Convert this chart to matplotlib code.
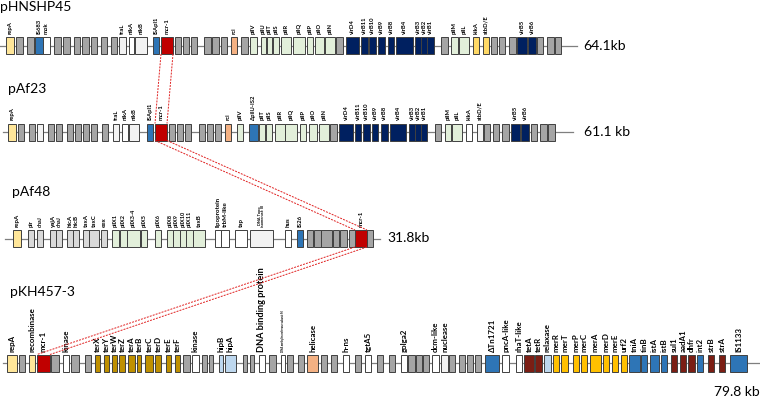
import matplotlib
matplotlib.use("Agg")
import matplotlib.pyplot as plt
from matplotlib.patches import Rectangle

plt.rcParams['font.family'] = ['Lato', 'DejaVu Sans']

# couleurs par type de gene
couleurs = {
    'rep': '#FFE699', 'hyp': '#A5A5A5', 'is': '#2E75B6', 'white': '#FFFFFF',
    'pale': '#F2F2F2', 'mcr': '#C00000', 'rci': '#F4B183', 'pil': '#E2EFDA',
    'vir': '#002060', 'stb': '#FFD966', 'lgrey': '#D9D9D9', 'ter': '#BF9000',
    'mer': '#FFC000', 'res': '#7B1E14', 'lblue': '#BDD7EE',
}

# (debut, fin, type, nom) -- positions le long de chaque plasmide
pHNSHP45 = [
    (6, 14, 'rep', 'repA'), (16, 23, 'hyp', ''), (27, 34, 'hyp', ''),
    (35, 43, 'is', 'IS683'), (43, 50, 'white', 'mok'),
    (54, 61, 'hyp', ''), (63, 70, 'hyp', ''), (74, 80, 'hyp', ''),
    (82, 89, 'hyp', ''), (91, 97, 'hyp', ''), (101, 107, 'hyp', ''),
    (111, 117, 'hyp', ''), (119, 126, 'pale', 'traL'), (129, 134, 'white', 'nikA'),
    (135, 147, 'pale', 'nikB'), (153, 159, 'is', 'ISApl1'), (161, 173, 'mcr', 'mcr-1'),
    (175, 181, 'hyp', ''), (183, 189, 'hyp', ''), (191, 197, 'hyp', ''),
    (204, 211, 'hyp', ''), (212, 219, 'hyp', ''), (221, 227, 'hyp', ''),
    (231, 237, 'rci', 'rci'), (241, 248, 'hyp', ''),
    (250, 257, 'pil', 'pilV'), (261, 266, 'pil', 'pilU'), (267, 272, 'pil', 'pilT'),
    (273, 279, 'pil', 'pilS'), (281, 291, 'pil', 'pilR'), (293, 305, 'pil', 'pilQ'),
    (307, 313, 'pil', 'pilP'), (315, 324, 'pil', 'pilO'), (325, 335, 'pil', 'pilN'),
    (336, 343, 'hyp', ''),
    (346, 359, 'vir', 'virD4'), (361, 368, 'vir', 'virB11'), (369, 376, 'vir', 'virB10'),
    (378, 385, 'vir', 'virB9'), (388, 394, 'vir', 'virB8'), (396, 413, 'vir', 'virB4'),
    (415, 421, 'vir', 'virB3'), (421, 427, 'vir', 'virB2'), (427, 434, 'vir', 'virB1'),
    (441, 448, 'hyp', ''), (451, 458, 'pil', 'pilM'), (459, 469, 'pil', 'pilL'),
    (473, 479, 'stb', 'kikA'), (483, 489, 'stb', 'stbD/E'),
    (491, 497, 'hyp', ''), (499, 505, 'hyp', ''), (509, 516, 'hyp', ''),
    (517, 527, 'vir', 'virB5'), (528, 536, 'vir', 'virB6'),
    (537, 543, 'hyp', ''), (547, 554, 'hyp', ''), (555, 561, 'hyp', ''),
]

pAf23 = [
    (8, 16, 'rep', 'repA'), (18, 24, 'hyp', ''), (29, 35, 'hyp', ''),
    (37, 43, 'pale', ''), (48, 54, 'hyp', ''), (56, 62, 'hyp', ''),
    (67, 73, 'hyp', ''), (75, 81, 'hyp', ''), (83, 89, 'hyp', ''),
    (91, 97, 'hyp', ''), (102, 108, 'hyp', ''),
    (113, 119, 'pale', 'traL'), (122, 128, 'white', 'nikA'), (129, 139, 'pale', 'nikB'),
    (147, 153, 'is', 'ISApl1'), (155, 167, 'mcr', 'mcr-1'),
    (169, 175, 'hyp', ''), (177, 183, 'hyp', ''), (185, 191, 'hyp', ''),
    (199, 205, 'hyp', ''), (207, 213, 'hyp', ''), (215, 221, 'hyp', ''),
    (225, 231, 'rci', 'rci'), (237, 243, 'pil', 'pilV'), (249, 258, 'is', 'ΔpilU-IS2'),
    (259, 265, 'pil', 'pilT'), (266, 272, 'pil', 'pilS'), (275, 285, 'pil', 'pilR'),
    (285, 297, 'pil', 'pilQ'), (300, 306, 'pil', 'pilP'), (309, 317, 'pil', 'pilO'),
    (319, 329, 'pil', 'pilN'), (330, 337, 'hyp', ''),
    (339, 353, 'vir', 'virD4'), (355, 361, 'vir', 'virB11'), (363, 370, 'vir', 'virB10'),
    (372, 378, 'vir', 'virB9'), (381, 388, 'vir', 'virB8'), (390, 406, 'vir', 'virB4'),
    (409, 415, 'vir', 'virB3'), (415, 421, 'vir', 'virB2'), (421, 427, 'vir', 'virB1'),
    (435, 441, 'hyp', ''), (445, 451, 'pil', 'pilM'), (452, 462, 'pil', 'pilL'),
    (466, 472, 'white', 'kikA'), (477, 483, 'pale', 'stbD/E'),
    (484, 490, 'hyp', ''), (493, 499, 'hyp', ''), (502, 509, 'hyp', ''),
    (511, 520, 'vir', 'virB5'), (521, 529, 'vir', 'virB6'),
    (531, 537, 'hyp', ''), (540, 547, 'hyp', ''), (548, 555, 'hyp', ''),
]

pAf48 = [
    (13, 21, 'rep', 'repA'), (28, 34, 'lgrey', 'pir'), (37, 43, 'lgrey', 'dnaJ'),
    (50, 56, 'lgrey', 'yajA'), (56, 62, 'lgrey', 'dnaJ'), (67, 73, 'lgrey', 'hicA'),
    (73, 79, 'lgrey', 'hicB'), (83, 89, 'lgrey', 'taxA'), (89, 99, 'lgrey', 'taxC'),
    (101, 107, 'lgrey', 'eex'), (112, 119, 'pil', 'pilX1'), (120, 127, 'pil', 'pilX2'),
    (127, 140, 'pil', 'pilX3-4'), (141, 147, 'pil', 'pilX5'), (155, 161, 'pil', 'pilX6'),
    (167, 173, 'pil', 'pilX8'), (173, 180, 'pil', 'pilX9'), (180, 186, 'pil', 'pilX10'),
    (186, 193, 'pil', 'pilX11'), (193, 205, 'pil', 'taxB'),
    (215, 221, 'white', 'lipoprotein'), (221, 229, 'white', 'trbM-like'),
    (235, 247, 'white', 'tap'), (250, 273, 'pale', 'DNA Topo\nisomerase III'),
    (285, 291, 'white', 'hus'), (297, 303, 'is', 'IS26'),
    (307, 313, 'hyp', ''), (314, 321, 'hyp', ''), (321, 332, 'hyp', ''),
    (333, 339, 'hyp', ''), (340, 347, 'hyp', ''), (349, 355, 'hyp', ''),
    (355, 367, 'mcr', 'mcr-1'), (367, 373, 'hyp', ''),
]

pKH457_3 = [
    (7, 17, 'rep', 'repA'), (19, 25, 'hyp', ''), (29, 35, 'rep', 'recombinase'),
    (37, 50, 'mcr', 'mcr-1'), (51, 59, 'hyp', ''), (63, 69, 'white', 'kinase'),
    (71, 79, 'hyp', ''), (85, 91, 'hyp', ''),
    (95, 100, 'ter', 'terX'), (104, 109, 'ter', 'terY'), (112, 117, 'ter', 'terW'),
    (119, 125, 'ter', 'terZ'), (128, 135, 'ter', 'terA'), (137, 141, 'ter', 'terB'),
    (145, 153, 'ter', 'terC'), (155, 161, 'ter', 'terD'), (166, 171, 'ter', 'terE'),
    (175, 180, 'ter', 'terF'), (183, 190, 'hyp', ''), (192, 199, 'white', 'kinase'),
    (202, 207, 'hyp', ''), (209, 213, 'hyp', ''),
    (219, 223, 'lblue', 'hipB'), (225, 236, 'lblue', 'hipA'),
    (243, 247, 'hyp', ''), (250, 254, 'hyp', ''),
    (259, 265, 'white', 'DNA binding protein'), (269, 276, 'hyp', ''),
    (281, 285, 'white', 'DNA methyltransferase subunit M'),
    (287, 293, 'hyp', ''), (298, 304, 'hyp', ''), (307, 318, 'rci', 'helicase'),
    (321, 327, 'hyp', ''), (331, 337, 'hyp', ''), (343, 349, 'white', 'h-ns'),
    (355, 361, 'hyp', ''), (365, 371, 'white', 'tgtA5'), (377, 383, 'hyp', ''),
    (389, 395, 'hyp', ''), (401, 407, 'white', 'golga2'), (408, 415, 'hyp', ''),
    (416, 422, 'hyp', ''), (423, 429, 'hyp', ''), (432, 439, 'white', 'dcm-like'),
    (441, 448, 'pale', 'nuclease'), (449, 455, 'hyp', ''), (459, 465, 'hyp', ''),
    (467, 473, 'hyp', ''), (475, 481, 'hyp', ''), (485, 499, 'is', 'ΔTn1721'),
    (502, 509, 'white', 'pncA-like'), (516, 522, 'white', 'rhaT-like'),
    (524, 534, 'res', 'tetA'), (535, 542, 'res', 'tetR'), (544, 551, 'lblue', 'relaxase'),
    (553, 559, 'mer', 'merR'), (561, 568, 'mer', 'merT'), (573, 579, 'mer', 'merP'),
    (581, 587, 'mer', 'merC'), (590, 601, 'mer', 'merA'), (603, 609, 'mer', 'merD'),
    (612, 618, 'mer', 'merE'), (621, 627, 'mer', 'urf2'),
    (629, 640, 'is', 'tniA'), (641, 647, 'is', 'tinB'), (650, 659, 'is', 'istA'),
    (661, 667, 'is', 'istB'), (671, 677, 'res', 'sul1'), (680, 686, 'res', 'aadA1'),
    (688, 695, 'res', 'dhfr'), (697, 703, 'is', 'int2'), (708, 714, 'res', 'strB'),
    (719, 725, 'res', 'strA'), (730, 747, 'is', 'IS1133'),
]

noms = ['pHNSHP45', 'pAf23', 'pAf48', 'pKH457-3']
tailles = ['64.1kb', '61.1 kb', '31.8kb', '79.8 kb']
cartes = [pHNSHP45, pAf23, pAf48, pKH457_3]
squelettes = [(0, 577), (3, 573), (5, 380), (3, 760)]

# mise en page
lignesY = [45.5, 132, 238.5, 363]
titresXY = [(0, 13), (8, 95), (12, 198), (10, 298)]
taillesXY = [(583, 45.5), (584, 132), (387, 238.5), (714, 392)]
policesGenes = [4.2, 4.2, 4.4, 5.7]
policesSpeciales = {'DNA methyltransferase subunit M': 2.0,
                    'DNA Topo\nisomerase III': 2.8,
                    'DNA binding protein': 6.6,
                    'pilX1': 4.0, 'pilX2': 4.0, 'pilX3-4': 4.0, 'pilX5': 4.0,
                    'pilX6': 4.0, 'pilX8': 4.0, 'pilX9': 4.0, 'pilX10': 4.0,
                    'pilX11': 4.0, 'pir': 4.0, 'dnaJ': 3.8}
demiH = 8.5

fig = plt.figure(figsize=(7.6, 4.0), dpi=100)
ax = fig.add_axes([0, 0, 1, 1])
ax.set_xlim(0, 760)
ax.set_ylim(400, 0)
ax.axis('off')

for k, carte in enumerate(cartes):
    y = lignesY[k]
    x0, x1 = squelettes[k]
    ax.plot([x0, x1], [y, y], color='#7F7F7F', lw=0.9, zorder=1)
    for debut, fin, type_, nom in carte:
        ax.add_patch(Rectangle((debut, y - demiH), fin - debut, 2 * demiH,
                               facecolor=couleurs[type_], edgecolor='#404040',
                               lw=0.7, zorder=2))
        if nom:
            fs = policesSpeciales.get(nom, policesGenes[k])
            ax.text((debut + fin) / 2, y - demiH - 3, nom, rotation=90,
                    ha='center', va='bottom', fontsize=fs,
                    fontweight='bold', linespacing=1.0)
    tx, ty = titresXY[k]
    ax.text(tx, ty, noms[k], fontsize=10, ha='left', va='bottom')
    sx, sy = taillesXY[k]
    ax.text(sx, sy, tailles[k], fontsize=10, ha='left', va='center')

# liens pointilles entre les copies de mcr-1
mcr = []
for k, carte in enumerate(cartes):
    for debut, fin, type_, nom in carte:
        if type_ == 'mcr':
            mcr.append((debut, fin, lignesY[k]))
for (a0, a1, ya), (b0, b1, yb) in zip(mcr[:-1], mcr[1:]):
    for xa, xb in [(a0, b0), (a1, b1)]:
        ax.plot([xa, xb], [ya + demiH, yb - demiH], color='#E02020',
                lw=0.7, ls=(0, (2, 1.2)), zorder=3)

fig.savefig('out.png', dpi=100)
